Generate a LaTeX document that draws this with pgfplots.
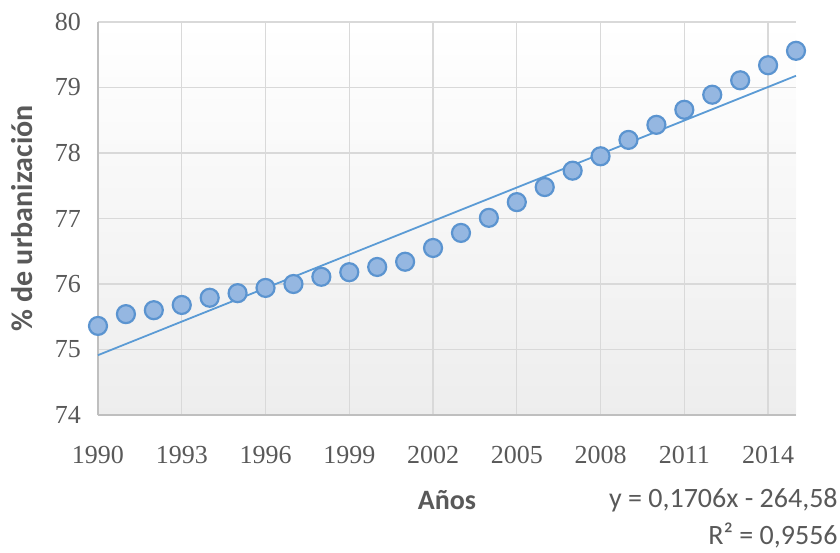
\documentclass[border=0pt]{standalone}
\usepackage{pgfplots}
\pgfplotsset{compat=1.18}
\usepackage{fontspec}
\setmainfont{Liberation Serif}
\newfontfamily\calfont{Carlito}
\definecolor{gridc}{RGB}{217,217,217}
\definecolor{axisc}{RGB}{191,191,191}
\definecolor{txtc}{RGB}{89,89,89}
\definecolor{markfill}{RGB}{149,183,225}
\definecolor{markdraw}{RGB}{91,148,208}
\definecolor{trendc}{RGB}{91,155,213}

\pgfplotstableread{
year urb
1990 75.36
1991 75.54
1992 75.60
1993 75.68
1994 75.79
1995 75.86
1996 75.94
1997 76.00
1998 76.11
1999 76.18
2000 76.26
2001 76.34
2002 76.55
2003 76.78
2004 77.01
2005 77.25
2006 77.48
2007 77.73
2008 77.95
2009 78.20
2010 78.43
2011 78.66
2012 78.89
2013 79.11
2014 79.34
2015 79.56
}\urbdata

\begin{document}
\begin{tikzpicture}
\path[use as bounding box] (-49pt,-68.5pt) rectangle (371pt,207.5pt);
\begin{axis}[
  scale only axis,
  width=349pt, height=196.5pt,
  xmin=1990, xmax=2015,
  ymin=74, ymax=80,
  xtick={1990,1993,...,2014},
  ytick={74,75,...,80},
  grid=major,
  major grid style={gridc, line width=0.6pt},
  axis x line*=bottom,
  axis y line*=left,
  axis line style={axisc, line width=0.8pt},
  tick style={draw=none},
  /pgf/number format/1000 sep={},
  /pgf/number format/assume math mode=true,
  ticklabel style={font=\fontsize{13}{15}\selectfont, text=txtc},
  xticklabel style={yshift=-12pt},
  yticklabel style={xshift=-5pt},
  axis background/.style={shade, top color=white, bottom color=black!7},
  xlabel={\calfont\bfseries Años},
  xlabel style={at={(axis description cs:0.5,-0.2163)}, anchor=center,
    font=\fontsize{14}{16}\selectfont, text=txtc},
  ylabel={\calfont\bfseries \% de urbanización},
  ylabel style={at={(axis description cs:-0.109,0.5)}, anchor=center,
    font=\fontsize{15}{17}\selectfont, text=txtc},
  clip=false,
]
\addplot[trendc, line width=0.9pt] coordinates {(1990,74.914) (2015,79.179)};
\addplot[only marks, mark=*, mark size=4.5pt,
  mark options={fill=markfill, draw=markdraw, line width=1.1pt}] table[x=year, y=urb] {\urbdata};
\end{axis}
\node[anchor=east, inner sep=0pt, text=txtc, font=\calfont\fontsize{14}{16}\selectfont] at (370pt,-42.5pt) {y = 0,1706x - 264,58};
\node[anchor=east, inner sep=0pt, text=txtc, font=\calfont\fontsize{14}{16}\selectfont] at (370pt,-60pt) {R² = 0,9556};
\end{tikzpicture}
\end{document}
